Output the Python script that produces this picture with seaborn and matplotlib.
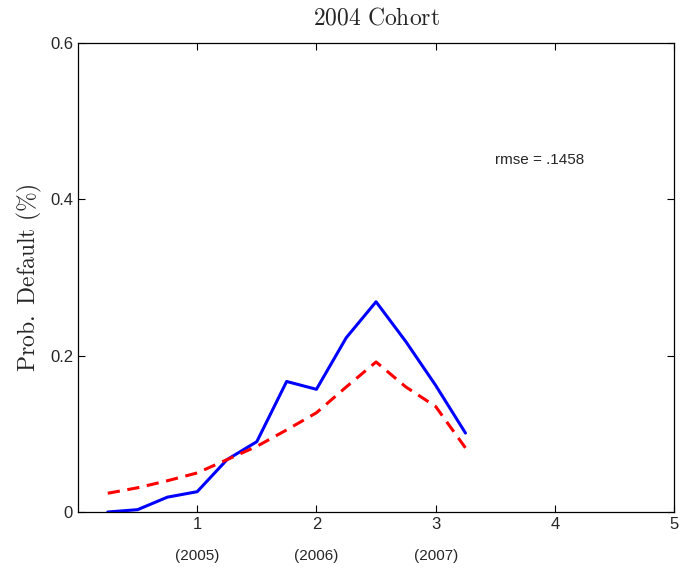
import matplotlib
matplotlib.use("Agg")
import matplotlib.pyplot as plt
import seaborn as sns
import pandas as pd

# horizon (years) and default probabilities
horizon = [0.25, 0.5, 0.75, 1.0, 1.25, 1.5, 1.75, 2.0, 2.25, 2.5, 2.75, 3.0, 3.25]
actual = [0.0, 0.003, 0.019, 0.026, 0.067, 0.090, 0.167, 0.157, 0.223, 0.269, 0.218, 0.162, 0.101]
model = [0.024, 0.031, 0.040, 0.050, 0.067, 0.084, 0.105, 0.127, 0.160, 0.192, 0.160, 0.135, 0.082]
year_ticks = [1, 2, 3]
year_labels = ['(2005)', '(2006)', '(2007)']
rmse_text = 'rmse = .1458'

df = pd.DataFrame({'h': horizon, 'actual': actual, 'model': model})

sns.set_style("ticks")
plt.rcParams['font.family'] = ['Liberation Sans', 'DejaVu Sans']
plt.rcParams['mathtext.fontset'] = 'cm'
plt.rcParams['xtick.direction'] = 'in'
plt.rcParams['ytick.direction'] = 'in'

fig = plt.figure(figsize=(6.9, 5.74), dpi=100)
ax = fig.add_axes([0.113, 0.108, 0.864, 0.817])

sns.lineplot(data=df, x='h', y='actual', ax=ax, color='blue', linewidth=2.2)
sns.lineplot(data=df, x='h', y='model', ax=ax, color='red', linewidth=2.2, linestyle='--')
ax.lines[-1].set_dashes([4, 2.5])

ax.set_xlim(0, 5)
ax.set_ylim(0, 0.6)
ax.set_xticks([1, 2, 3, 4, 5])
ax.set_yticks([0, 0.2, 0.4, 0.6])
ax.set_yticklabels(['0', '0.2', '0.4', '0.6'])
ax.tick_params(labelsize=12, length=5, width=0.8, top=True, right=True, color='black')
for s in ax.spines.values():
    s.set_visible(True)
    s.set_linewidth(0.9)
    s.set_color('black')

ax.set_xlabel('')
ax.set_ylabel(r'$\mathrm{Prob.\ Default\ (\%)}$', fontsize=17)
ax.set_title(r'$\mathrm{2004\ Cohort}$', fontsize=17, pad=13)

for xt, lab in zip(year_ticks, year_labels):
    ax.text(xt, -0.047, lab, ha='center', va='top', fontsize=11)

ax.text(3.5, 0.45, rmse_text, fontsize=11, va='center', ha='left')

fig.savefig('out.png', dpi=100)
